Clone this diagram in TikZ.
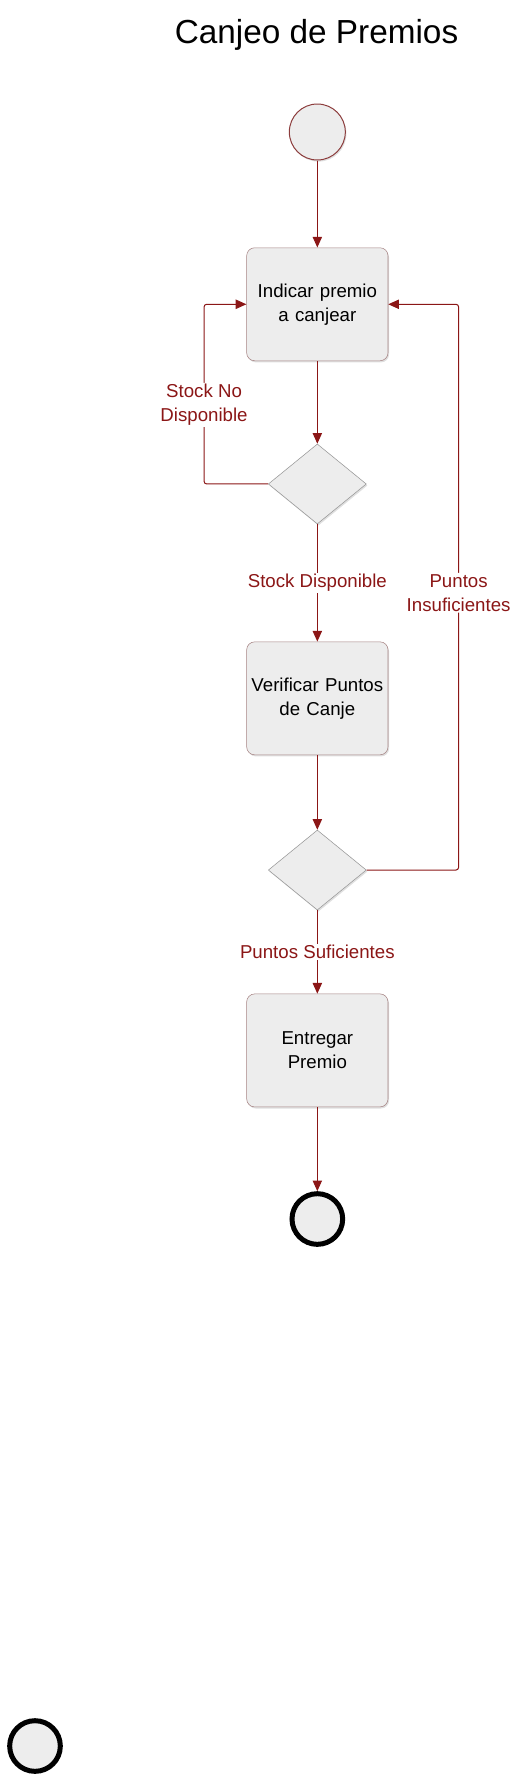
\documentclass[tikz,border=0pt]{standalone}
\usepackage{fontspec}
\setmainfont{Liberation Sans}
\usetikzlibrary{shapes.geometric, arrows.meta, positioning, shadows}
\definecolor{flowred}{RGB}{139,22,22}
\definecolor{boxedge}{RGB}{165,130,130}
\definecolor{boxfill}{RGB}{237,237,237}
\definecolor{diaedge}{RGB}{150,150,150}
\definecolor{startedge}{RGB}{140,60,60}
\tikzset{
  softshadow/.style={drop shadow={opacity=0.25, shadow xshift=0.8pt, shadow yshift=-1.2pt}},
  activity/.style={rectangle, rounded corners=6pt, draw=boxedge, fill=boxfill,
                   text width=104pt, inner sep=1pt, align=center,
                   minimum width=106pt, minimum height=84.75pt,
                   font=\fontsize{14}{18}\selectfont, softshadow},
  decision/.style={diamond, draw=diaedge, fill=boxfill, inner sep=0pt,
                   minimum width=73.5pt, minimum height=60pt, softshadow},
  startnode/.style={circle, draw=startedge, fill=boxfill, line width=0.75pt,
                    minimum size=42pt, inner sep=0pt, softshadow},
  endnode/.style={circle, draw=black, fill=boxfill, line width=3.75pt,
                  minimum size=38pt, inner sep=0pt, softshadow},
  arrow/.style={-{Triangle[length=8pt, width=7pt]}, line width=0.75pt, color=flowred},
  flowlabel/.style={fill=white, text=flowred, inner sep=1pt, align=center,
                    font=\fontsize{14}{18}\selectfont},
}
\begin{document}
\begin{tikzpicture}
        \useasboundingbox (0,0) rectangle (393pt,-1339.5pt);
        \node[anchor=base, font=\fontsize{25}{30}\selectfont] (title) at (237.4pt,-32.25pt) {Canjeo de Premios};

        \node[startnode] (start) at (238pt,-99pt) {};
        \node[activity, below=65.25pt of start] (ind) {Indicar premio\\a canjear};
        \node[decision, below=62pt of ind] (dec1) {};
        \node[activity, below=88pt of dec1] (ver) {Verificar Puntos\\de Canje};
        \node[decision, below=56pt of ver] (dec2) {};
        \node[activity, below=62.5pt of dec2] (ent) {Entregar\\Premio};
        \node[endnode, below=63pt of ent] (fin) {};
        \node[endnode] (fin2) at (26.25pt,-1309.5pt) {};

        \draw[arrow] (start) -- (ind);
        \draw[arrow] (ind) -- (dec1);
        \draw[arrow] (dec1) -- (ver) node[flowlabel, midway]{Stock Disponible};
        \draw[arrow] (ver) -- (dec2);
        \draw[arrow] (dec2) -- (ent) node[flowlabel, midway]{Puntos Suficientes};
        \draw[arrow] (ent) -- (fin);

        \draw[arrow, rounded corners=2pt] (dec1.west) -- ++(-48pt,0) |- (ind.west)
          node[flowlabel, pos=0.22]{Stock No\\Disponible};
        \draw[arrow, rounded corners=2pt] (dec2.east) -- ++(69pt,0) |- (ind.east)
          node[flowlabel, pos=0.245]{Puntos\\Insuficientes};
      \end{tikzpicture}
\end{document}
